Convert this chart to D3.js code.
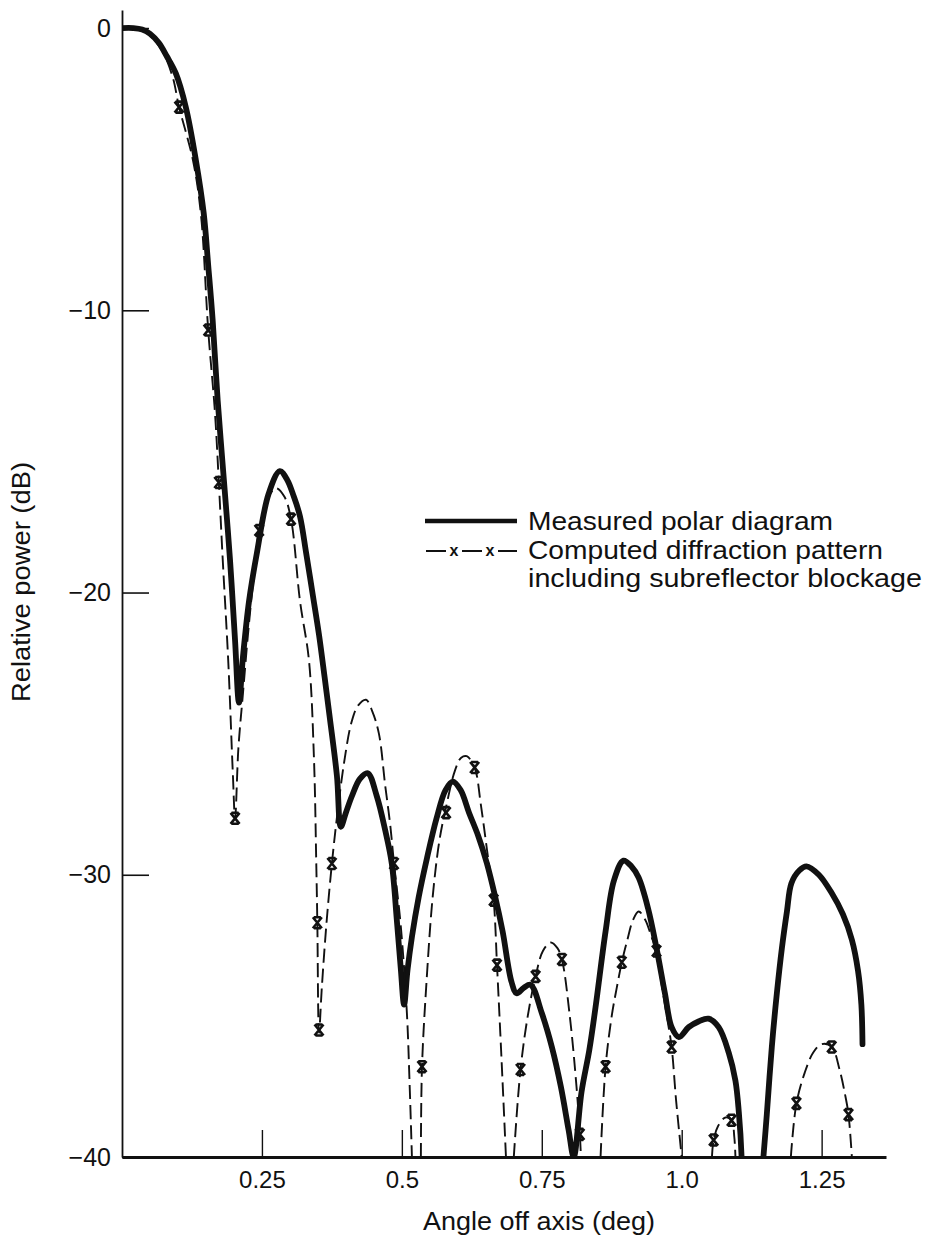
<!DOCTYPE html>
<html>
<head>
<meta charset="utf-8">
<script src="https://cdn.jsdelivr.net/npm/d3@7"></script>
<style>
  body { margin: 0; background: #fff; }
  svg text { font-family: "Liberation Sans", Arial, Helvetica, sans-serif; fill: #111; }
  .axis path, .axis line { stroke: #111; }
</style>
</head>
<body>
<div id="chart"></div>
<script>
//*********************** DATA (angle in deg, relative power in dB) ***********************
// measured polar diagram, split where it runs below -40 dB
var measuredA = [
  [0, 0], [0.02, 0], [0.036, -0.05], [0.05, -0.2], [0.066, -0.53], [0.08, -1.0],
  [0.096, -1.6], [0.114, -2.8], [0.132, -4.68], [0.146, -6.56], [0.154, -8.4],
  [0.162, -10.35], [0.171, -13.2], [0.182, -16.0], [0.193, -18.85], [0.202, -21.7],
  [0.209, -23.9], [0.216, -22.3], [0.227, -20.3], [0.241, -18.6], [0.262, -16.5],
  [0.282, -15.7], [0.295, -16.0], [0.307, -16.6], [0.318, -17.3], [0.329, -18.6],
  [0.341, -20.1], [0.352, -21.5], [0.362, -23.0], [0.371, -24.4], [0.384, -26.5],
  [0.391, -28.3], [0.40, -27.8], [0.411, -27.2], [0.425, -26.6], [0.439, -26.4],
  [0.455, -27.2], [0.47, -28.4], [0.482, -29.6], [0.491, -31.6], [0.498, -33.3],
  [0.504, -34.6], [0.51, -33.4], [0.518, -32.2], [0.53, -30.8], [0.545, -29.4],
  [0.562, -28.0], [0.578, -27.0], [0.591, -26.7], [0.605, -27.0], [0.62, -27.8],
  [0.636, -28.6], [0.652, -29.6], [0.667, -30.8], [0.68, -32.0], [0.696, -33.8],
  [0.705, -34.2], [0.718, -34.0], [0.730, -33.9], [0.75, -34.9], [0.768, -36.1],
  [0.784, -37.5], [0.798, -39.05], [0.807, -40], [0.821, -37.7], [0.835, -36.2],
  [0.846, -34.7], [0.864, -32.0], [0.879, -30.2], [0.896, -29.5], [0.91, -29.7],
  [0.923, -30.1], [0.94, -31.2], [0.955, -32.6], [0.97, -34.2], [0.982, -35.4],
  [0.995, -35.75], [1.0125, -35.4], [1.03, -35.2], [1.048, -35.1], [1.066, -35.4],
  [1.084, -36.3], [1.096, -37.3], [1.102, -38.4], [1.107, -40]
];
var measuredB = [
  [1.146, -40], [1.152, -38.5], [1.161, -36.1], [1.17, -34.2], [1.179, -32.6],
  [1.188, -31.3], [1.196, -30.3], [1.21, -29.85], [1.223, -29.7], [1.245, -30.0],
  [1.268, -30.65], [1.288, -31.4], [1.304, -32.3], [1.315, -33.4], [1.321, -34.6],
  [1.323, -36.0]
];

// computed diffraction pattern, one array per lobe above -40 dB
var computedL1 = [
  [0, 0], [0.04, -0.12], [0.07, -0.75], [0.09, -1.7], [0.102, -2.8], [0.127, -4.7],
  [0.141, -6.6], [0.154, -10.7], [0.166, -13.6], [0.173, -16.1], [0.18, -18.85],
  [0.19, -22.5], [0.198, -26.4], [0.202, -28.0], [0.208, -25.5], [0.216, -23.6],
  [0.225, -21.5], [0.235, -19.5], [0.245, -17.8], [0.26, -16.7], [0.275, -16.3],
  [0.29, -16.6], [0.302, -17.4], [0.318, -20.3], [0.334, -22.4], [0.343, -25.9],
  [0.347, -29.5], [0.349, -31.7], [0.352, -35.6], [0.357, -34.0], [0.365, -31.8],
  [0.375, -29.6], [0.385, -27.8], [0.397, -26.0], [0.41, -24.6], [0.422, -24.0],
  [0.436, -23.8], [0.447, -24.2], [0.459, -25.0], [0.47, -26.8], [0.479, -28.2],
  [0.486, -29.6], [0.498, -31.8], [0.509, -34.9], [0.514, -37.5], [0.518, -40]
];
var computedL2 = [
  [0.534, -40], [0.536, -36.8], [0.545, -33.5], [0.555, -30.8], [0.567, -28.8],
  [0.579, -27.6], [0.595, -26.3], [0.606, -25.85], [0.616, -25.8], [0.63, -26.2],
  [0.641, -27.5], [0.652, -29.1], [0.664, -30.9], [0.67, -33.2], [0.678, -36.5],
  [0.686, -40]
];
var computedL3 = [
  [0.700, -40], [0.712, -36.9], [0.725, -35.0], [0.739, -33.6], [0.752, -32.7],
  [0.766, -32.4], [0.778, -32.6], [0.786, -33.0], [0.80, -35.0], [0.812, -37.5],
  [0.818, -39.2], [0.82, -40]
];
var computedL4 = [
  [0.855, -40], [0.864, -36.8], [0.875, -35.0], [0.884, -34.0], [0.893, -33.1],
  [0.903, -32.3], [0.913, -31.6], [0.923, -31.3], [0.935, -31.6], [0.946, -32.2],
  [0.955, -32.7], [0.965, -34.0], [0.975, -35.2], [0.982, -36.1], [0.99, -38.0],
  [1.0, -40]
];
var computedL5 = [
  [1.054, -40], [1.057, -39.4], [1.065, -38.9], [1.078, -38.6], [1.089, -38.7],
  [1.094, -39.3], [1.096, -40]
];
var computedL6 = [
  [1.195, -40], [1.205, -38.1], [1.22, -37.0], [1.235, -36.3], [1.25, -36.0],
  [1.268, -36.1], [1.282, -36.9], [1.292, -37.8], [1.298, -38.5], [1.304, -40]
];
// the "x" points plotted on the computed curve
var computedMarks = [
  [0.102, -2.8], [0.154, -10.7], [0.173, -16.1], [0.202, -28.0], [0.245, -17.8],
  [0.302, -17.4], [0.349, -31.7], [0.352, -35.5], [0.375, -29.6], [0.486, -29.6],
  [0.536, -36.8], [0.579, -27.8], [0.630, -26.2], [0.664, -30.9], [0.670, -33.2],
  [0.712, -36.9], [0.739, -33.6], [0.786, -33.0], [0.818, -39.2],
  [0.864, -36.8], [0.893, -33.1], [0.955, -32.7], [0.982, -36.1],
  [1.057, -39.4], [1.089, -38.7], [1.205, -38.1], [1.268, -36.1], [1.298, -38.5]
];

var xTicks = [0.25, 0.5, 0.75, 1.0, 1.25],
    xTickLabels = ["0.25", "0.5", "0.75", "1.0", "1.25"],
    yTicks = [0, -10, -20, -30, -40];

var xTitle = "Angle off axis (deg)",
    yTitle = "Relative power (dB)",
    legendMeasured = "Measured polar diagram",
    legendComputed = ["Computed diffraction pattern", "including subreflector blockage"];

//*********************** DECLARE VARIABLES ***********************
var width = 931,
    height = 1239,
    ink = "#111",
    xScale = d3.scaleLinear().domain([0, 1.365]).range([122, 886]),
    yScale = d3.scaleLinear().domain([-40, 0.64]).range([1157, 10]);

var svg = d3.select("#chart").append("svg")
  .attr("width", width)
  .attr("height", height);

svg.append("rect").attr("width", width).attr("height", height).attr("fill", "#fff");

svg.append("defs").append("clipPath")
  .attr("id", "plotclip")
  .append("rect")
  .attr("x", xScale(0))
  .attr("y", 0)
  .attr("width", xScale.range()[1] - xScale(0))
  .attr("height", yScale(-40));

var line = d3.line()
  .x(function(d) { return xScale(d[0]); })
  .y(function(d) { return yScale(d[1]); })
  .curve(d3.curveCatmullRom.alpha(0.5));

var plot = svg.append("g").attr("clip-path", "url(#plotclip)");

//*********************** MEASURED (thick solid) ***********************
plot.selectAll("path.measured")
  .data([measuredA, measuredB])
  .enter().append("path")
  .attr("class", "measured")
  .attr("d", line)
  .attr("fill", "none")
  .attr("stroke", ink)
  .attr("stroke-width", 5.8)
  .attr("stroke-linejoin", "round")
  .attr("stroke-linecap", "round");

//*********************** COMPUTED (thin dashed + x marks) ***********************
plot.selectAll("path.computed")
  .data([computedL1, computedL2, computedL3, computedL4, computedL5, computedL6])
  .enter().append("path")
  .attr("class", "computed")
  .attr("d", line)
  .attr("fill", "none")
  .attr("stroke", ink)
  .attr("stroke-width", 1.9)
  .attr("stroke-dasharray", "14,6");

// bold "x" with short caps, as printed on the computed curve
var markShape = "M-4.5,-5.5L4.5,5.5M-4.5,5.5L4.5,-5.5M-3.5,-5.5H3.5M-3.5,5.5H3.5";

plot.selectAll("path.mark")
  .data(computedMarks)
  .enter().append("path")
  .attr("class", "mark")
  .attr("transform", function(d) { return "translate(" + xScale(d[0]) + "," + yScale(d[1]) + ")"; })
  .attr("d", markShape)
  .attr("fill", "none")
  .attr("stroke", ink)
  .attr("stroke-width", 2.6);

//*********************** AXES ***********************
var xAxis = d3.axisBottom(xScale)
  .tickValues(xTicks)
  .tickFormat(function(d, i) { return xTickLabels[i]; })
  .tickSizeInner(-27)
  .tickSizeOuter(0)
  .tickPadding(14);

var yAxis = d3.axisLeft(yScale)
  .tickValues(yTicks)
  .tickSizeInner(-27)
  .tickSizeOuter(0)
  .tickPadding(11);

var gx = svg.append("g")
  .attr("class", "x axis")
  .attr("transform", "translate(0," + yScale(-40) + ")")
  .call(xAxis);
gx.select(".domain").attr("stroke-width", 2.8);
gx.selectAll(".tick line").attr("stroke-width", 1.4);
gx.selectAll(".tick text").attr("font-size", 24).attr("fill", ink);

var gy = svg.append("g")
  .attr("class", "y axis")
  .attr("transform", "translate(" + xScale(0) + ",0)")
  .call(yAxis);
gy.select(".domain").attr("stroke-width", 1.8);
gy.selectAll(".tick line").attr("stroke-width", 1.6);
gy.selectAll(".tick text").attr("font-size", 25).attr("fill", ink);

//axis titles
svg.append("text")
  .attr("x", 539)
  .attr("y", 1230)
  .attr("text-anchor", "middle")
  .attr("font-size", 25)
  .attr("textLength", 232)
  .attr("lengthAdjust", "spacingAndGlyphs")
  .text(xTitle);

svg.append("text")
  .attr("transform", "translate(30,582) rotate(-90)")
  .attr("text-anchor", "middle")
  .attr("font-size", 25)
  .attr("textLength", 240)
  .attr("lengthAdjust", "spacingAndGlyphs")
  .text(yTitle);

//*********************** LEGEND ***********************
var legend = svg.append("g").attr("class", "legend");

legend.append("line")
  .attr("x1", 425).attr("x2", 517)
  .attr("y1", 521).attr("y2", 521)
  .attr("stroke", ink)
  .attr("stroke-width", 4.5);

legend.selectAll("line.seg")
  .data([[426, 446], [462, 482], [498, 517]])
  .enter().append("line")
  .attr("class", "seg")
  .attr("x1", function(d) { return d[0]; })
  .attr("x2", function(d) { return d[1]; })
  .attr("y1", 551).attr("y2", 551)
  .attr("stroke", ink)
  .attr("stroke-width", 2);

legend.selectAll("text.xmark")
  .data([454, 490])
  .enter().append("text")
  .attr("class", "xmark")
  .attr("x", function(d) { return d; })
  .attr("y", 556)
  .attr("text-anchor", "middle")
  .attr("font-size", 16)
  .attr("font-weight", "bold")
  .text("x");

legend.append("text")
  .attr("x", 528).attr("y", 530)
  .attr("font-size", 25)
  .attr("textLength", 305)
  .attr("lengthAdjust", "spacingAndGlyphs")
  .text(legendMeasured);

legend.selectAll("text.comp")
  .data(legendComputed)
  .enter().append("text")
  .attr("class", "comp")
  .attr("x", 528)
  .attr("y", function(d, i) { return 559 + i * 28; })
  .attr("font-size", 25)
  .attr("textLength", function(d, i) { return i === 0 ? 355 : 394; })
  .attr("lengthAdjust", "spacingAndGlyphs")
  .text(function(d) { return d; });
</script>
</body>
</html>
